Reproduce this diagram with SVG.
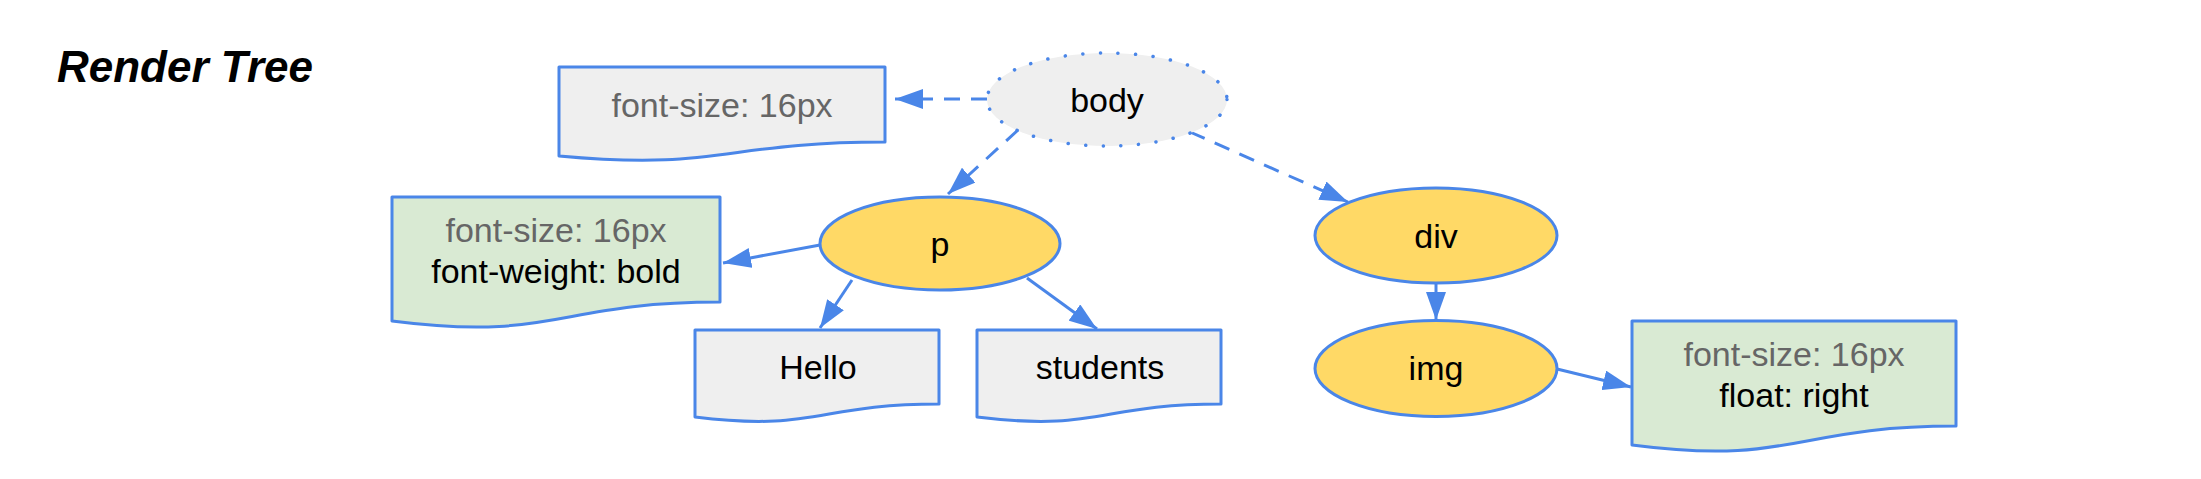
<svg xmlns="http://www.w3.org/2000/svg" width="2201" height="479" viewBox="0 0 2201 479">
  <style>
    .doc { stroke: #4a86e8; stroke-width: 3; stroke-linejoin: round; }
    .gray { fill: #efefef; }
    .green { fill: #d9ead3; }
    .yel { fill: #ffd966; stroke: #4a86e8; stroke-width: 3; }
    .dotted { fill: #efefef; stroke: #4a86e8; stroke-width: 3.5; stroke-dasharray: 0.1 17.5; stroke-linecap: round; }
    .t { font-family: "Liberation Sans", Arial, sans-serif; font-size: 34px; text-anchor: middle; fill: #000000; }
    .tg { fill: #666666; }
    .edge { fill: none; stroke: #4a86e8; stroke-width: 3; }
    .dash { stroke-dasharray: 16 11; }
    .title { font-family: "Liberation Sans", Arial, sans-serif; font-size: 44px; font-weight: bold; font-style: italic; fill: #000000; }
  </style>
  <defs>
    <marker id="arrow" viewBox="0 0 28 20" refX="28" refY="10" markerWidth="28" markerHeight="20" markerUnits="userSpaceOnUse" orient="auto">
      <path d="M0,0 L28,10 L0,20 Z" fill="#4a86e8"/>
    </marker>
  </defs>

  <text class="title" x="57" y="82">Render Tree</text>

  <g id="connectors">
    <path class="edge dash" d="M987,99 L895,99" marker-end="url(#arrow)"/>
    <path class="edge dash" d="M1018,130 L948,194" marker-end="url(#arrow)"/>
    <path class="edge dash" d="M1190,132 L1348,202" marker-end="url(#arrow)"/>
    <path class="edge" d="M820,245 L723,263" marker-end="url(#arrow)"/>
    <path class="edge" d="M852,280 L820,328" marker-end="url(#arrow)"/>
    <path class="edge" d="M1027,278 L1097,329" marker-end="url(#arrow)"/>
    <path class="edge" d="M1436,283 L1436,320" marker-end="url(#arrow)"/>
    <path class="edge" d="M1557,369 L1631,387" marker-end="url(#arrow)"/>
  </g>

  <g id="body-style">
    <path class="doc gray" d="M559,67 H885 V142 C722,142 722,171 559,156 Z"/>
    <text class="t tg" x="722" y="117">font-size: 16px</text>
  </g>

  <g id="body">
    <ellipse class="dotted" cx="1107" cy="99.5" rx="120" ry="46.5"/>
    <text class="t" x="1107" y="112">body</text>
  </g>

  <g id="p-style">
    <path class="doc green" d="M392,197 H720 V302 C556,302 556,342 392,321 Z"/>
    <text class="t tg" x="556" y="242">font-size: 16px</text>
    <text class="t" x="556" y="283">font-weight: bold</text>
  </g>

  <g id="p">
    <ellipse class="yel" cx="940" cy="243.5" rx="120" ry="46.5"/>
    <text class="t" x="940" y="256">p</text>
  </g>

  <g id="hello">
    <path class="doc gray" d="M695,330 H939 V404 C817,404 817,432 695,417 Z"/>
    <text class="t" x="818" y="379">Hello</text>
  </g>

  <g id="students">
    <path class="doc gray" d="M977,330 H1221 V404 C1099,404 1099,432 977,417 Z"/>
    <text class="t" x="1100" y="379">students</text>
  </g>

  <g id="div">
    <ellipse class="yel" cx="1436" cy="235.5" rx="121" ry="47.5"/>
    <text class="t" x="1436" y="248">div</text>
  </g>

  <g id="img">
    <ellipse class="yel" cx="1436" cy="368.5" rx="121" ry="48"/>
    <text class="t" x="1436" y="380">img</text>
  </g>

  <g id="img-style">
    <path class="doc green" d="M1632,321 H1956 V426 C1794,426 1794,466 1632,445 Z"/>
    <text class="t tg" x="1794" y="366">font-size: 16px</text>
    <text class="t" x="1794" y="407">float: right</text>
  </g>
</svg>
